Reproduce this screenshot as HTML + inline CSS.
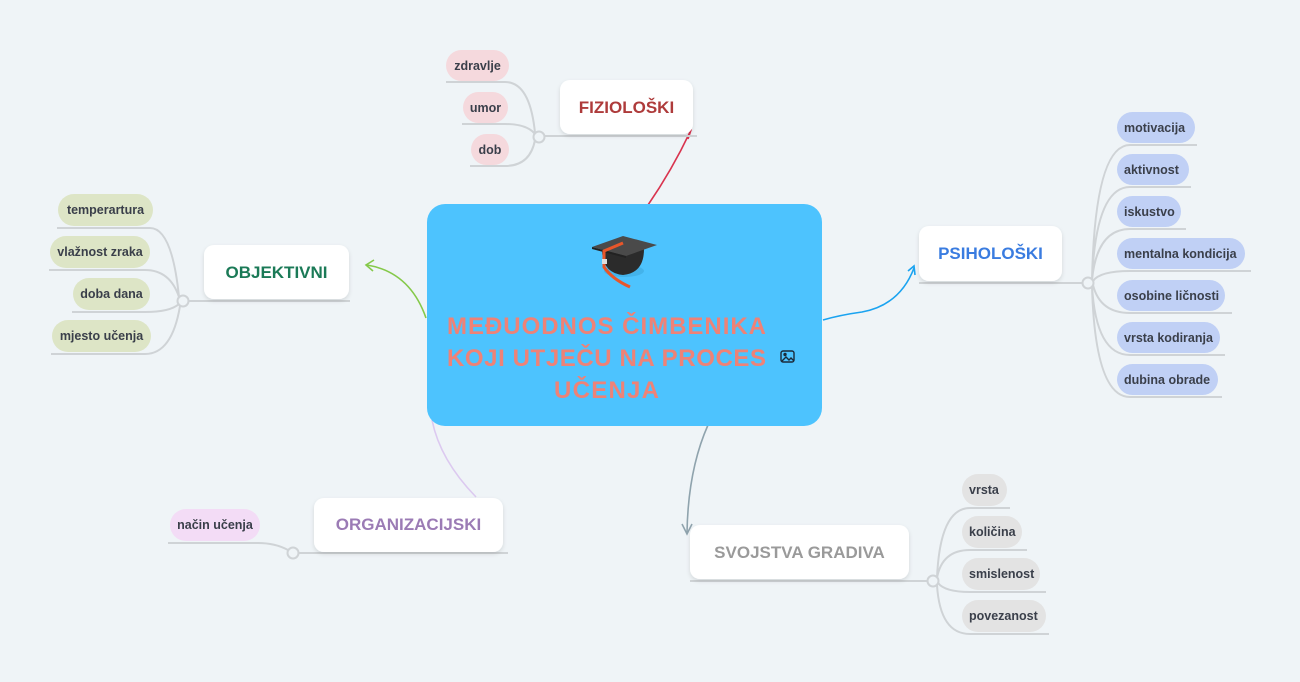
<!DOCTYPE html>
<html><head><meta charset="utf-8"><style>
html,body{margin:0;padding:0;background:#eff4f7;}
svg{display:block;}
text{font-family:"Liberation Sans",sans-serif;}
.ch{font-size:12.5px;font-weight:bold;fill:#3a3f4a;}
.mn{font-size:17px;font-weight:bold;}
.ln{fill:none;stroke:#cfd3d6;stroke-width:2;}
</style></head><body>
<svg width="1300" height="682" viewBox="0 0 1300 682" xmlns="http://www.w3.org/2000/svg">
<defs>
<filter id="sh" x="-10%" y="-10%" width="120%" height="130%"><feDropShadow dx="0" dy="2" stdDeviation="2" flood-color="#000" flood-opacity="0.12"/></filter>
</defs>
<rect width="1300" height="682" fill="#eff4f7"/>

<!-- main connectors -->
<path d="M648 205 Q672 170 690 132" fill="none" stroke="#d9344f" stroke-width="1.6"/>
<path d="M683 128 L691 130 L688 139" fill="none" stroke="#d9344f" stroke-width="1.6"/>
<path d="M426 318 Q410 272 367 265" fill="none" stroke="#85c94a" stroke-width="1.6"/>
<path d="M374 260 L366 265 L373 271" fill="none" stroke="#85c94a" stroke-width="1.6"/>
<path d="M823 320 Q840 315 862 312 Q900 305 914 268" fill="none" stroke="#1aa3f0" stroke-width="1.6"/>
<path d="M908 271 L914 266 L915 275" fill="none" stroke="#1aa3f0" stroke-width="1.6"/>
<path d="M708 425 Q688 470 687 533" fill="none" stroke="#8fa3ad" stroke-width="1.6"/>
<path d="M682 524 L687 534 L692 524" fill="none" stroke="#8fa3ad" stroke-width="1.6"/>
<path d="M432 420 Q440 460 476 497" fill="none" stroke="#dcc9f0" stroke-width="1.6"/>

<!-- central -->
<rect x="427" y="204" width="395" height="222" rx="18" fill="#4dc3fe"/>
<g transform="translate(590,233)">
<ellipse cx="34" cy="38" rx="20" ry="6" fill="#3aa4d8" opacity="0.5"/>
<path d="M12 16 Q12 40 33 42 Q54 40 54 16 Z" fill="#2b2b2b"/>
<polygon points="2,14 33,3 67,12 36,23" fill="#4a4a4a"/>
<polygon points="2,14 36,23 36,25 2,16" fill="#222"/>
<path d="M33 10 L14 18 L14 34 Q22 46 40 54" fill="none" stroke="#e8562a" stroke-width="3"/>
<rect x="12" y="26" width="5" height="5" fill="#ddd"/>
</g>
<g font-weight="bold" font-size="24" fill="#ee8277" font-family="Liberation Sans,sans-serif">
<text x="447" y="334" textLength="319" lengthAdjust="spacing">MEĐUODNOS ČIMBENIKA</text>
<text x="447" y="366" textLength="319" lengthAdjust="spacing">KOJI UTJEČU NA PROCES</text>
<text x="554" y="398" textLength="105" lengthAdjust="spacing">UČENJA</text>
</g>
<g transform="translate(781,351)" fill="none" stroke="#1b2a3a" stroke-width="1.4">
<rect x="0" y="0" width="13" height="11" rx="2"/>
<path d="M1 10 L5 6 L8 9 L10 7 L13 10"/>
<circle cx="4" cy="3.5" r="1" fill="#1b2a3a"/>
</g>

<!-- FIZIOLOSKI -->
<line class="ln" x1="545" y1="136" x2="697" y2="136"/>
<path class="ln" d="M535 133 Q530 82 505 82 L446 82 M535 134 Q527 124 505 124 L462 124 M535 140 Q530 166 505 166 L470 166"/>
<circle cx="539" cy="137" r="5.5" fill="#eff4f7" stroke="#cfd3d6" stroke-width="2"/>
<rect x="560" y="80" width="133" height="54" rx="10" fill="#fff" filter="url(#sh)"/>
<text x="626.5" y="113" text-anchor="middle" class="mn" fill="#ae3b3b">FIZIOLOŠKI</text>
<rect x="446" y="50" width="63" height="31" rx="15.5" fill="#f5d9dd"/><text x="477.5" y="70" text-anchor="middle" class="ch">zdravlje</text>
<rect x="463" y="92" width="45" height="31" rx="15.5" fill="#f5d9dd"/><text x="485.5" y="112" text-anchor="middle" class="ch">umor</text>
<rect x="471" y="134" width="38" height="31" rx="15.5" fill="#f5d9dd"/><text x="490" y="154" text-anchor="middle" class="ch">dob</text>

<!-- OBJEKTIVNI -->
<line class="ln" x1="189" y1="301" x2="350" y2="301"/>
<path class="ln" d="M179 297 Q172 228 150 228 L57 228 M179 297 Q170 270 145 270 L49 270 M179 304 Q170 312 145 312 L72 312 M180 306 Q172 354 145 354 L51 354"/>
<circle cx="183" cy="301" r="5.5" fill="#eff4f7" stroke="#cfd3d6" stroke-width="2"/>
<rect x="204" y="245" width="145" height="54" rx="10" fill="#fff" filter="url(#sh)"/>
<text x="276.5" y="278" text-anchor="middle" font-size="17" font-weight="bold" fill="#1b7a57">OBJEKTIVNI</text>
<rect x="58" y="194" width="95" height="32" rx="16" fill="#dde5c6"/><text x="105.5" y="214" text-anchor="middle" class="ch">temperartura</text>
<rect x="50" y="236" width="100" height="32" rx="16" fill="#dde5c6"/><text x="100" y="256" text-anchor="middle" class="ch">vlažnost zraka</text>
<rect x="73" y="278" width="77" height="32" rx="16" fill="#dde5c6"/><text x="111.5" y="298" text-anchor="middle" class="ch">doba dana</text>
<rect x="52" y="320" width="99" height="32" rx="16" fill="#dde5c6"/><text x="101.5" y="340" text-anchor="middle" class="ch">mjesto učenja</text>

<!-- PSIHOLOSKI -->
<line class="ln" x1="919" y1="283" x2="1082" y2="283"/>
<path class="ln" d="M1092 280 Q1095 145 1130 145 L1197 145 M1092 280 Q1096 187 1130 187 L1191 187 M1092 280 Q1097 229 1130 229 L1186 229 M1093 281 Q1100 271 1130 271 L1251 271 M1093 285 Q1100 313 1130 313 L1232 313 M1092 286 Q1096 355 1130 355 L1225 355 M1092 286 Q1095 397 1130 397 L1222 397"/>
<circle cx="1088" cy="283" r="5.5" fill="#eff4f7" stroke="#cfd3d6" stroke-width="2"/>
<rect x="919" y="226" width="143" height="55" rx="10" fill="#fff" filter="url(#sh)"/>
<text x="990.5" y="259" text-anchor="middle" class="mn" fill="#3a7ce0">PSIHOLOŠKI</text>
<g fill="#c0d0f5">
<rect x="1117" y="112" width="78" height="31" rx="15.5"/>
<rect x="1117" y="154" width="72" height="31" rx="15.5"/>
<rect x="1117" y="196" width="64" height="31" rx="15.5"/>
<rect x="1117" y="238" width="128" height="31" rx="15.5"/>
<rect x="1117" y="280" width="108" height="31" rx="15.5"/>
<rect x="1117" y="322" width="103" height="31" rx="15.5"/>
<rect x="1117" y="364" width="101" height="31" rx="15.5"/>
</g>
<g class="ch">
<text x="1124" y="132">motivacija</text>
<text x="1124" y="174">aktivnost</text>
<text x="1124" y="216">iskustvo</text>
<text x="1124" y="258">mentalna kondicija</text>
<text x="1124" y="300">osobine ličnosti</text>
<text x="1124" y="342">vrsta kodiranja</text>
<text x="1124" y="384">dubina obrade</text>
</g>

<!-- SVOJSTVA GRADIVA -->
<line class="ln" x1="690" y1="581" x2="927" y2="581"/>
<path class="ln" d="M937 578 Q940 508 970 508 L1010 508 M937 578 Q942 550 970 550 L1027 550 M938 583 Q945 592 970 592 L1046 592 M937 585 Q940 634 970 634 L1049 634"/>
<circle cx="933" cy="581" r="5.5" fill="#eff4f7" stroke="#cfd3d6" stroke-width="2"/>
<rect x="690" y="525" width="219" height="54" rx="10" fill="#fff" filter="url(#sh)"/>
<text x="799.5" y="558" text-anchor="middle" font-size="17" font-weight="bold" fill="#9a9a9a">SVOJSTVA GRADIVA</text>
<g fill="#e3e3e3">
<rect x="962" y="474" width="45" height="32" rx="16"/>
<rect x="962" y="516" width="60" height="32" rx="16"/>
<rect x="962" y="558" width="78" height="32" rx="16"/>
<rect x="962" y="600" width="84" height="32" rx="16"/>
</g>
<g class="ch">
<text x="969" y="494">vrsta</text>
<text x="969" y="536">količina</text>
<text x="969" y="578">smislenost</text>
<text x="969" y="620">povezanost</text>
</g>

<!-- ORGANIZACIJSKI -->
<line class="ln" x1="299" y1="553" x2="508" y2="553"/>
<path class="ln" d="M288 550 Q275 543 258 543 L168 543"/>
<circle cx="293" cy="553" r="5.5" fill="#eff4f7" stroke="#cfd3d6" stroke-width="2"/>
<rect x="314" y="498" width="189" height="54" rx="10" fill="#fff" filter="url(#sh)"/>
<text x="408.5" y="530" text-anchor="middle" class="mn" fill="#9b7bb5">ORGANIZACIJSKI</text>
<rect x="170" y="509" width="90" height="32" rx="16" fill="#f3dcf6"/>
<text x="215" y="529" text-anchor="middle" class="ch">način učenja</text>
</svg>
</body></html>
